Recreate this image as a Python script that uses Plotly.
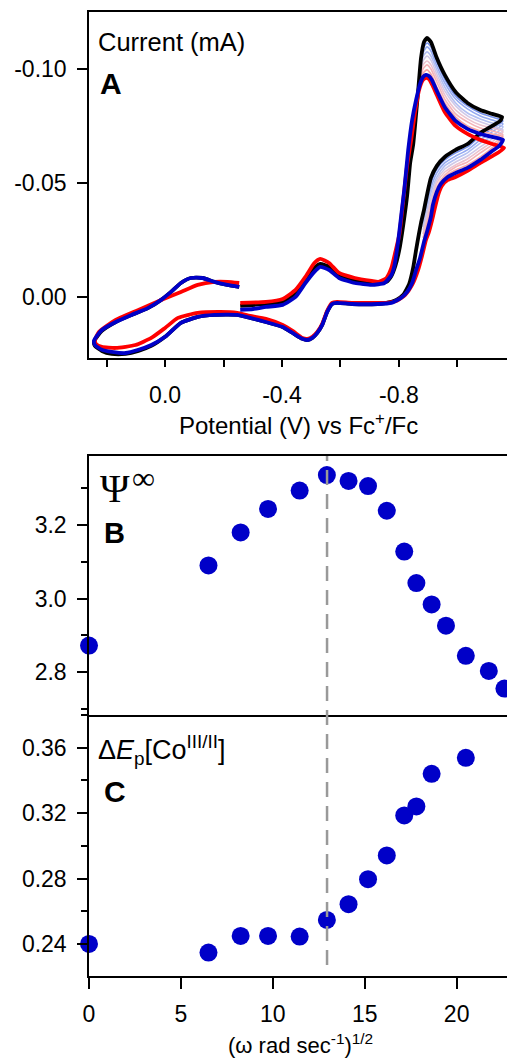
import plotly.graph_objects as go

W, H = 507, 1059


def fx(p):
    return p / W


def fy(p):
    return 1 - p / H


# ---------------- Panel A : cyclic voltammograms (E in V vs Fc+/Fc, I in mA) -------------
blue_E = [-0.2570, -0.3009, -0.3449, -0.4024, -0.4463, -0.4801, -0.5106, -0.5308, -0.5613, -0.5951,
          -0.6492, -0.7067, -0.7506, -0.7743, -0.7844, -0.7980, -0.8081, -0.8183, -0.8318, -0.8453,
          -0.8588, -0.8723, -0.8825, -0.8926, -0.9028, -0.9129, -0.9298, -0.9569, -0.9941, -1.0346,
          -1.0786, -1.1192, -1.1564,
          -1.1428, -1.1192, -1.0786, -1.0346, -0.9941, -0.9670, -0.9434, -0.9298, -0.9163, -0.9095,
          -0.8960, -0.8859, -0.8723, -0.8588, -0.8453, -0.8284, -0.8081, -0.7743, -0.7270, -0.6390,
          -0.5883, -0.5714, -0.5545, -0.5376, -0.5207, -0.5038, -0.4869, -0.4700, -0.4362, -0.4024,
          -0.3449, -0.2908, -0.2468, -0.1691, -0.1116, -0.0541, 0.0, 0.0473, 0.0913, 0.1352,
          0.1826, 0.2164, 0.2401, 0.2434, 0.2333, 0.2164, 0.1691, 0.1150, 0.0575, 0.0135,
          -0.0203, -0.0541, -0.0879, -0.1285, -0.1691, -0.2130, -0.2536]
blue_I = [0.0057, 0.0053, 0.0044, 0.0035, 0.0, -0.0061, -0.0110, -0.0132, -0.0118, -0.0083,
          -0.0061, -0.0053, -0.0061, -0.0096, -0.0136, -0.0250, -0.0360, -0.0469, -0.0645, -0.0776,
          -0.0864, -0.0934, -0.0965, -0.0974, -0.0969, -0.0952, -0.0904, -0.0833, -0.0772, -0.0737,
          -0.0715, -0.0702, -0.0689,
          -0.0662, -0.0640, -0.0601, -0.0566, -0.0544, -0.0526, -0.0496, -0.0461, -0.0404, -0.0351,
          -0.0285, -0.0241, -0.0171, -0.0118, -0.0061, -0.0022, 0.0004, 0.0026, 0.0031, 0.0031,
          0.0026, 0.0031, 0.0066, 0.0123, 0.0158, 0.0180, 0.0189, 0.0184, 0.0158, 0.0132,
          0.0110, 0.0092, 0.0079, 0.0079, 0.0088, 0.0114, 0.0175, 0.0211, 0.0232, 0.0246,
          0.0241, 0.0232, 0.0211, 0.0193, 0.0171, 0.0145, 0.0110, 0.0079, 0.0048, 0.0013,
          -0.0022, -0.0061, -0.0083, -0.0083, -0.0066, -0.0053, -0.0044]

red_E = [-0.2570, -0.3449, -0.4024, -0.4463, -0.4801, -0.5106, -0.5308, -0.5613, -0.5951, -0.6492,
         -0.7067, -0.7303, -0.7574, -0.7743, -0.7878, -0.8013, -0.8149, -0.8284, -0.8419, -0.8554,
         -0.8690, -0.8825, -0.8926, -0.9028, -0.9163, -0.9298, -0.9569, -0.9941, -1.0346, -1.0786,
         -1.1192, -1.1598,
         -1.1428, -1.1192, -1.0786, -1.0346, -0.9941, -0.9670, -0.9467, -0.9366, -0.9231, -0.9163,
         -0.9028, -0.8926, -0.8791, -0.8656, -0.8453, -0.8216, -0.7912, -0.7574, -0.7270, -0.6390,
         -0.5883, -0.5714, -0.5545, -0.5376, -0.5207, -0.5038, -0.4869, -0.4700, -0.4362, -0.4024,
         -0.3449, -0.2908, -0.2468, -0.1893, -0.1116, -0.0440, 0.0, 0.0473, 0.1014, 0.1691,
         0.2164, 0.2367, 0.2401, 0.2265, 0.1691, 0.0913, 0.0135, -0.0541, -0.1116, -0.1691,
         -0.2130, -0.2536]
red_I = [0.0026, 0.0022, 0.0009, -0.0031, -0.0088, -0.0149, -0.0167, -0.0149, -0.0105, -0.0083,
         -0.0070, -0.0066, -0.0083, -0.0127, -0.0197, -0.0272, -0.0425, -0.0579, -0.0689, -0.0811,
         -0.0908, -0.0952, -0.0961, -0.0956, -0.0925, -0.0886, -0.0811, -0.0750, -0.0715, -0.0689,
         -0.0671, -0.0654,
         -0.0636, -0.0618, -0.0588, -0.0553, -0.0526, -0.0513, -0.0487, -0.0456, -0.0390, -0.0351,
         -0.0285, -0.0250, -0.0180, -0.0118, -0.0053, -0.0009, 0.0018, 0.0026, 0.0026, 0.0026,
         0.0022, 0.0026, 0.0061, 0.0118, 0.0154, 0.0175, 0.0184, 0.0180, 0.0149, 0.0123,
         0.0096, 0.0083, 0.0070, 0.0066, 0.0070, 0.0092, 0.0136, 0.0180, 0.0211, 0.0224,
         0.0219, 0.0206, 0.0189, 0.0154, 0.0101, 0.0057, 0.0013, -0.0022, -0.0053, -0.0066,
         -0.0066, -0.0061]

black_E = [-0.2570, -0.3449, -0.4024, -0.4463, -0.4801, -0.5106, -0.5308, -0.5613, -0.5951, -0.6492,
           -0.7067, -0.7574, -0.7743, -0.7878, -0.8013, -0.8149, -0.8284, -0.8385, -0.8487, -0.8554,
           -0.8656, -0.8757, -0.8859, -0.8960, -0.9095, -0.9298, -0.9569, -0.9941, -1.0346, -1.0786,
           -1.1192, -1.1530,
           -1.1462, -1.1192, -1.0786, -1.0346, -0.9941, -0.9569, -0.9298, -0.9095, -0.8960, -0.8859,
           -0.8757, -0.8588, -0.8487, -0.8352, -0.8149, -0.7912, -0.7574, -0.7270, -0.6390, -0.5883,
           -0.5714, -0.5545, -0.5376, -0.5207, -0.5038, -0.4869, -0.4700, -0.4362, -0.4024, -0.3449,
           -0.2908, -0.2468, -0.1691, -0.1116, -0.0541, 0.0, 0.0473, 0.0913, 0.1352, 0.1826,
           0.2164, 0.2401, 0.2434, 0.2333, 0.2164, 0.1691, 0.1150, 0.0575, 0.0135, -0.0203,
           -0.0541, -0.0879, -0.1285, -0.1691, -0.2130, -0.2536]
black_I = [0.0039, 0.0031, 0.0022, -0.0013, -0.0075, -0.0127, -0.0145, -0.0132, -0.0092, -0.0070,
           -0.0061, -0.0066, -0.0092, -0.0136, -0.0206, -0.0316, -0.0447, -0.0588, -0.0667, -0.0754,
           -0.0899, -0.1048, -0.1118, -0.1136, -0.1118, -0.1048, -0.0974, -0.0899, -0.0851, -0.0820,
           -0.0803, -0.0789,
           -0.0772, -0.0750, -0.0719, -0.0671, -0.0645, -0.0614, -0.0575, -0.0522, -0.0447, -0.0382,
           -0.0325, -0.0206, -0.0127, -0.0057, -0.0009, 0.0013, 0.0026, 0.0031, 0.0031, 0.0026,
           0.0031, 0.0066, 0.0123, 0.0158, 0.0180, 0.0189, 0.0184, 0.0158, 0.0132, 0.0110,
           0.0092, 0.0079, 0.0079, 0.0088, 0.0114, 0.0175, 0.0215, 0.0237, 0.0250, 0.0250,
           0.0237, 0.0215, 0.0197, 0.0175, 0.0149, 0.0110, 0.0079, 0.0048, 0.0013, -0.0022,
           -0.0061, -0.0083, -0.0083, -0.0066, -0.0053, -0.0044]

# intermediate scans (thin lines), visible in the Co(III/II) wave region
thin_E = [-0.8555, -0.8690, -0.8825, -0.8960, -0.9095, -0.9298, -0.9569, -0.9941, -1.0347, -1.0786,
          -1.1192, -1.1564, -1.1192, -1.0786, -1.0347, -0.9941, -0.9569, -0.9298, -0.9095, -0.8825]
thin_I1 = [-0.0768, -0.0947, -0.1088, -0.1114, -0.1097, -0.1031, -0.0956, -0.0882, -0.0838, -0.0807,
           -0.0789, -0.0772, -0.0737, -0.0706, -0.0658, -0.0632, -0.0601, -0.0561, -0.0500, -0.0342]
thin_I2 = [-0.0781, -0.0943, -0.1070, -0.1097, -0.1079, -0.1013, -0.0939, -0.0868, -0.0825, -0.0794,
           -0.0776, -0.0759, -0.0724, -0.0689, -0.0645, -0.0618, -0.0588, -0.0544, -0.0478, -0.0325]
thin_I3 = [-0.0794, -0.0939, -0.1053, -0.1075, -0.1057, -0.0996, -0.0921, -0.0851, -0.0807, -0.0781,
           -0.0763, -0.0746, -0.0706, -0.0675, -0.0632, -0.0605, -0.0575, -0.0526, -0.0456, -0.0307]
thin_I4 = [-0.0807, -0.0934, -0.1035, -0.1057, -0.1039, -0.0978, -0.0904, -0.0838, -0.0794, -0.0768,
           -0.0750, -0.0732, -0.0693, -0.0658, -0.0618, -0.0592, -0.0561, -0.0513, -0.0434, -0.0294]
thin_I5 = [-0.0820, -0.0930, -0.1018, -0.1035, -0.1018, -0.0961, -0.0886, -0.0820, -0.0781, -0.0754,
           -0.0741, -0.0724, -0.0680, -0.0645, -0.0605, -0.0579, -0.0548, -0.0500, -0.0412, -0.0276]
thin_I6 = [-0.0829, -0.0925, -0.1000, -0.1018, -0.1000, -0.0943, -0.0868, -0.0803, -0.0768, -0.0741,
           -0.0728, -0.0711, -0.0667, -0.0632, -0.0592, -0.0570, -0.0535, -0.0482, -0.0390, -0.0259]
thin_I7 = [-0.0838, -0.0925, -0.0982, -0.0996, -0.0978, -0.0921, -0.0851, -0.0789, -0.0750, -0.0728,
           -0.0715, -0.0702, -0.0654, -0.0614, -0.0579, -0.0557, -0.0526, -0.0469, -0.0373, -0.0241]
thin_sets = [thin_I1, thin_I2, thin_I3, thin_I4, thin_I5, thin_I6, thin_I7]
thin_colors = ["#7893ee", "#95aaf1", "#b2bff3", "#d0c8e8", "#ecc2cf", "#f5b3b8", "#f7a6a6"]

A_xticks = [0.0, -0.4, -0.8]
A_xticktext = ["0.0", "-0.4", "-0.8"]
A_xminor = [0.2, -0.2, -0.6, -1.0]
A_yticks = [-0.10, -0.05, 0.0]
A_yticktext = ["-0.10", "-0.05", "0.00"]

# ---------------- Panel B / C -------------------------------------------------------------
omega_B = [0.0, 6.5, 8.25, 9.74, 11.46, 12.94, 14.12, 15.18, 16.2, 17.15, 17.81, 18.64, 19.42, 20.5,
           21.75, 22.6]
psi_B = [2.872, 3.090, 3.180, 3.244, 3.294, 3.336, 3.320, 3.306, 3.239, 3.128, 3.042, 2.984, 2.926,
         2.844, 2.803, 2.755]
omega_C = [0.0, 6.5, 8.25, 9.74, 11.46, 12.94, 14.12, 15.18, 16.2, 17.15, 17.81, 18.64, 20.5]
dEp_C = [0.2400, 0.2347, 0.2449, 0.2449, 0.2445, 0.2547, 0.2643, 0.2796, 0.2941, 0.3186, 0.3241,
         0.3440, 0.3538]
omega_mark = 12.95

B_yticks = [2.8, 3.0, 3.2]
B_yticktext = ["2.8", "3.0", "3.2"]
B_yminor = [2.7, 2.9, 3.1, 3.3]
C_yticks = [0.24, 0.28, 0.32, 0.36]
C_yticktext = ["0.24", "0.28", "0.32", "0.36"]
C_yminor = [0.26, 0.30, 0.34, 0.38]
C_xticks = [0, 5, 10, 15, 20]

# ---------------- figure -------------------------------------------------------------------
FONT = "Liberation Sans, Arial, sans-serif"
SERIF = "Liberation Serif, Times New Roman, serif"
fig = go.Figure()

for Iset, col in zip(thin_sets, thin_colors):
    fig.add_trace(go.Scatter(x=thin_E, y=Iset, mode="lines", xaxis="x", yaxis="y",
                             line=dict(color=col, width=1.6, shape="spline", smoothing=0.6),
                             showlegend=False, hoverinfo="skip"))
for E, I, col in [(black_E, black_I, "#000000"), (red_E, red_I, "#ff0000"), (blue_E, blue_I, "#0000c8")]:
    fig.add_trace(go.Scatter(x=E, y=I, mode="lines", xaxis="x", yaxis="y",
                             line=dict(color=col, width=3.8, shape="spline", smoothing=0.5),
                             showlegend=False, hoverinfo="skip"))

fig.add_trace(go.Scatter(x=omega_B, y=psi_B, mode="markers", xaxis="x2", yaxis="y2",
                         marker=dict(color="#0000c8", size=18), cliponaxis=False,
                         showlegend=False))
fig.add_trace(go.Scatter(x=omega_C, y=dEp_C, mode="markers", xaxis="x3", yaxis="y3",
                         marker=dict(color="#0000c8", size=18), cliponaxis=False,
                         showlegend=False))

axis_common = dict(showline=True, linecolor="black", linewidth=1.5, showgrid=False, zeroline=False,
                   tickcolor="black", tickwidth=1.5, tickfont=dict(family=FONT, size=23, color="black"))
xdom = [fx(84), 1.0]

fig.update_layout(
    width=W, height=H, margin=dict(l=0, r=0, t=0, b=0),
    paper_bgcolor="white", plot_bgcolor="white",
    xaxis=dict(domain=xdom, range=[0.2604, -1.1699], anchor="y", mirror=True, ticks="outside",
               ticklen=7, tickmode="array", tickvals=A_xticks, ticktext=A_xticktext,
               ticklabelstandoff=9,
               minor=dict(tickmode="array", tickvals=A_xminor, ticks="outside", ticklen=7,
                          tickcolor="black", tickwidth=1.5),
               **axis_common),
    yaxis=dict(domain=[fy(358), fy(12)], range=[0.0268, -0.1250], anchor="x", ticks="outside",
               ticklen=10, tickmode="array", tickvals=A_yticks, ticktext=A_yticktext,
               ticklabelstandoff=6, **axis_common),
    xaxis2=dict(domain=xdom, range=[0, 22.74], anchor="y2", mirror=True, ticks="",
                showticklabels=False, **axis_common),
    yaxis2=dict(domain=[fy(715), fy(456)], range=[2.683, 3.388], anchor="x2", ticks="outside",
                ticklen=10, tickmode="array", tickvals=B_yticks, ticktext=B_yticktext,
                ticklabelstandoff=6,
                minor=dict(tickmode="array", tickvals=B_yminor, ticks="outside", ticklen=6,
                           tickcolor="black", tickwidth=1.5),
                **axis_common),
    xaxis3=dict(domain=xdom, range=[0, 22.74], anchor="y3", mirror=False, ticks="outside",
                ticklen=11, tickmode="array", tickvals=C_xticks, ticklabelstandoff=6,
                **axis_common),
    yaxis3=dict(domain=[fy(976), fy(715)], range=[0.2204, 0.38], anchor="x3", ticks="outside",
                ticklen=10, tickmode="array", tickvals=C_yticks, ticktext=C_yticktext,
                ticklabelstandoff=6,
                minor=dict(tickmode="array", tickvals=C_yminor, ticks="outside", ticklen=6,
                           tickcolor="black", tickwidth=1.5),
                **axis_common),
)

fig.add_shape(type="line", xref="x3", yref="paper", x0=omega_mark, x1=omega_mark,
              y0=fy(965), y1=fy(456), line=dict(color="#999999", width=2.5, dash="15px,9px"),
              layer="above")


def label(text, x, y, size, family=FONT, bold=False, xanchor="left"):
    t = f"<b>{text}</b>" if bold else text
    fig.add_annotation(text=t, x=fx(x), y=fy(y), xref="paper", yref="paper", showarrow=False,
                       xanchor=xanchor, yanchor="middle",
                       font=dict(family=family, size=size, color="black"))


label("Current (mA)", 91, 42, 25.5)
label("A", 93, 84, 30, bold=True)
label("Potential (V) vs Fc<sup>+</sup>/Fc", 296, 424, 24, xanchor="center")
label("Ψ", 93, 488, 40, family=SERIF)
label("∞", 125, 478, 32, family=SERIF)
label("B", 97, 533, 29, bold=True)
label("Δ<i>E</i><sub>p</sub>[Co<sup>III/II</sup>]", 91, 750, 27)
label("C", 97, 791, 30, bold=True)
label("(ω rad sec<sup>-1</sup>)<sup>1/2</sup>", 298, 1044, 22, xanchor="center")

fig.write_html("out.html")
